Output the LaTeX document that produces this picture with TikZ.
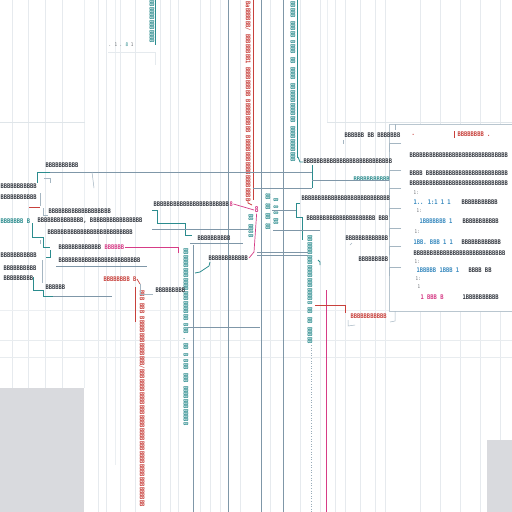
\documentclass[tikz,border=0pt]{standalone}
\usepackage{fontspec}
\newfontfamily\gf{DejaVu Sans Mono}[FakeStretch=0.85]
\definecolor{lnc}{HTML}{7F97A8}
\definecolor{tealc}{HTML}{2B8C8E}
\definecolor{redc}{HTML}{C8413C}
\definecolor{pinkc}{HTML}{D63C86}
\definecolor{bluec}{HTML}{3C8CC0}
\definecolor{txtc}{HTML}{333840}
\definecolor{faint}{HTML}{E6EAEE}
\definecolor{greyb}{HTML}{D9DADE}
\tikzset{
  tx/.style={font=\gf\bfseries\fontsize{6.4}{7}\selectfont, text=txtc, inner sep=0.4pt, anchor=west},
  txt/.style={tx, text=tealc},
  txr/.style={tx, text=redc},
  txp/.style={tx, text=pinkc},
  txb/.style={tx, text=bluec},
  txs/.style={tx, text=txtc!70, font=\gf\fontsize{5}{5}\selectfont},
  vt/.style={rotate=-90, anchor=west},
  ln/.style={draw=lnc, line width=0.8pt},
  lnt/.style={draw=tealc, line width=0.8pt},
  lnr/.style={draw=redc, line width=0.7pt},
  lnp/.style={draw=pinkc, line width=0.7pt},
  lng/.style={draw=lnc!70, line width=0.5pt},
  fl/.style={draw=faint, line width=0.5pt},
}
\begin{document}
\begin{tikzpicture}[x=1pt,y=-1pt]
\useasboundingbox (0,0) rectangle (512,512);
\fill[white] (0,0) rectangle (512,512);
% faint background grid
\foreach \x in {12,28,45,62,98,106,120,135,160,170,178,200,210,220,240,270,300,320,335,345,360,375,385,420,440,460,480,500}
  \draw[fl] (\x,0) -- (\x,512);
\draw[draw=faint!60!lnc!30, line width=0.6pt] (84,0) -- (84,388);
\draw[draw=faint!60!lnc!30, line width=0.6pt] (115,0) -- (115,465);
\draw[draw=faint!60!lnc!30, line width=0.6pt] (327,0) -- (327,122);
\draw[draw=lnc!25, line width=0.8pt] (0,122) -- (85,122);
\draw[draw=lnc!25, line width=0.8pt] (327,122) -- (512,122);
\draw[draw=lnc!18, line width=0.8pt] (0,340) -- (512,340);
\draw[draw=lnc!18, line width=0.8pt] (0,357) -- (512,357);
\draw[draw=lnc!15, line width=0.6pt] (0,310) -- (512,310);
\fill[greyb] (0,388) rectangle (84,512);
\fill[greyb] (487,440) rectangle (512,512);

% main vertical lines
\draw[ln] (228,0) -- (228,512);
\draw[ln] (261,0) -- (261,512);
\draw[ln] (283,0) -- (283,512);
\draw[ln] (193,245) -- (193,512);
\draw[lnp] (326,290) -- (326,512);
\draw[draw=lnc!80, line width=0.6pt, dotted] (311,345) -- (311,512);
\draw[lnr, line width=0.5pt] (253,0) -- (253,200);
\draw[lnt, line width=0.5pt] (297,0) -- (297,158);
\draw[lnt, line width=0.5pt] (155,0) -- (155,45);

% vertical texts
\node[txr, vt] (vred) at (248,1) {BaBBBBBB/ BBBBBBBB1 BBBBBBBBB BBBBBBBBBB BBBBBBBBBBBBBBBBBBBB};
\node[txt, vt] (vtealtop) at (293,1) {BBBBB BBBBB BBBB BB BBBB BBBBBBBBBBBB BBBBBBBBBBB};
\node[txt, vt] (vteal1) at (152,0) {BBBBBBBBBBBBB};
\node[txr, vt] (vred2) at (142,290) {BBB BBB BBBBBBBBBBBBBBB/BBBBBBBBBBBBBBBBBBBBBBBBBBBBBBBBBBBBBBBBBB};
\node[txt, vt] (vteal2) at (186,248) {BBBBBBBBBBBBBBBBBBBBBB BBB . BB B BBB BBB BBBBBBBBBBBB};
\node[txt, vt] (vteal3) at (310,235) {BBBBBBBBBBBBBBBBBBBBB BB BB BBBBB};
\node[txt, vt] (ctA) at (251,214) {B8 BB8B};
\node[txt, vt] (ctB) at (268,193) {8B 8B BB 8B};
\node[txt, vt] (ctC) at (276,198) {B 8 8 B8};
\node[txp, font=\gf\bfseries\fontsize{8}{8}\selectfont] (pk) at (254,210) {8};

% top-left marks
\node[txs] (mk) at (108,45) {. 1 . \textcolor{tealc}{8} 1};
\draw[fl, draw=lnc!20] (108,52) -- (155,52) -- (155,65);

% ===== right panel =====
\filldraw[fill=white, draw=lnc!55, line width=0.6pt] (389,124) rectangle (520,311);
\draw[lng] (395,124) -- (395,130);
\foreach \y in {143,170,188,208,228,246,267}
  \draw[lng] (401,\y) -- (389,\y) -- (389,\y+9);
\node[tx] (p0) at (344,135) {BBBBBB BB BBBBBBB};
\node[txr] (p0r) at (411,135) {.};
\draw[lng] (343,140) -- (343,144);
\draw[lnr] (454,131) -- (454,138);
\node[txr] (p0b) at (457,134) {BBBBBBBB .};
\node[tx] (p1) at (409,155) {BBBBBBBBBBBBBBBBBBBBBBBBBBBBBB};
\node[tx] (p2) at (409,173) {BBBB BBBBBBBBBBBBBBBBBBBBBBBBB};
\node[tx] (p3) at (409,183) {BBBBBBBBBBBBBBBBBBBBBBBBBBBBBB};
\node[txs] (p4) at (413,193) {1:};
\node[txb] (p5) at (413,202) {1.. 1:1 1 1};
\node[tx] (p5b) at (461,202) {BBBBBBBBBBB};
\node[txs] (p6) at (416,211) {1:};
\node[txb] (p7) at (419,221) {1BBBBBBB 1};
\node[tx] (p7b) at (462,221) {BBBBBBBBBBB};
\node[txs] (p8) at (414,232) {1:};
\node[txb] (p9) at (413,242) {1BB. BBB 1 1};
\node[tx] (p9b) at (461,242) {BBBBBBBBBBBB};
\node[tx] (p10) at (413,253) {BBBBBBBBBBBBBBBBBBBBBBBBBBBB};
\node[txs] (p11) at (414,262) {1:};
\node[txb] (p12) at (416,270) {1BBBBB 1BBB 1};
\node[tx] (p12b) at (468,270) {BBBB BB};
\node[txs] (p13) at (415,279) {1:};
\node[txs] (p14) at (417,287) {1};
\node[txp] (p15) at (420,297) {1 BBB B};
\node[tx] (p15b) at (462,297) {1BBBBBBBBBB};

% ===== mid-right =====
\node[tx] (m1) at (303,161) {BBBBBBBBBBBBBBBBBBBBBBBBBBB};
\node[txt] (m2) at (353,179) {BBBBBBBBBBB};
\node[tx] (m3) at (301,198) {BBBBBBBBBBBBBBBBBBBBBBBBBBB};
\node[tx] (m4) at (306,218) {BBBBBBBBBBBBBBBBBBBBB BBB};
\node[tx] (m5) at (345,238) {BBBBBBBBBBBBB};
\node[tx] (m6) at (358,259) {BBBBBBBBB};
\node[txr] (m7) at (350,316) {BBBBBBBBBBB};
\coordinate (c1) at (312,172);
\draw[ln] (50,172) -- (c1);
\draw[lnt] (312,165) -- (312,188);
\draw[ln] (312,180) -- (389,180);
\draw[ln] (253,188) -- (312,188);
\draw[lnt] (298,157) -- (300,162) -- (303,162);
\draw[lnt] (300,203) -- (296,203) -- (296,217) -- (302,217) -- (302,240);
\draw[ln] (272,210) -- (296,210);
\draw[ln] (273,230) -- (320,230);
\draw[ln] (257,255) -- (308,255);
\draw[ln] (188,327) -- (260,327);
\draw[lnr] (315,305) -- (345,305) -- (345,313);
\draw[lng] (348,320) -- (348,326) -- (355,325);
\draw[lng] (395,311) -- (395,321) -- (390,322);
\draw[lng] (350,245) -- (352,243);
\draw[lnt] (318,260) -- (320,262) -- (320,265);

% ===== left =====
\node[tx] (l1) at (45,165) {BBBBBBBBBB};
\node[tx] (l2) at (0,186) {BBBBBBBBBBB};
\node[tx] (l3) at (0,197) {BBBBBBBBBBB};
\node[tx] (l4) at (48,211) {BBBBBBBBBBBBBBBBBBB};
\node[txt] (l5) at (0,221) {BBBBBBB B};
\node[tx] (l6) at (37,221) {BBBBBBBBBBBBBB, BBBBBBBBBBBBBBBB};
\node[tx] (l7) at (47,232) {BBBBBBBBBBBBBBBBBBBBBBBBBB};
\node[tx] (l8) at (58,247) {BBBBBBBBBBBBB};
\node[txp] (l8p) at (104,247) {BBBBBB};
\node[tx] (l9) at (0,255) {BBBBBBBBBBB};
\node[tx] (l10) at (58,260) {BBBBBBBBBBBBBBBBBBBBBBBBB};
\node[tx] (l11) at (3,268) {BBBBBBBBBB};
\node[tx] (l12) at (3,278) {BBBBBBBBB};
\node[txr] (l13) at (103,279) {BBBBBBBB B};
\node[tx] (l14) at (45,287) {BBBBBB};
\node[tx] (l15) at (155,290) {BBBBBBBBB};
\draw[lnt] (50,172) -- (37,172) -- (37,183);
\draw[lng] (44,178) -- (50,178) -- (50,183);
\draw[lng] (92,172) -- (94,188);
\draw[lng] (40,193) -- (40,206);
\draw[lnr] (29,207) -- (40,207);
\draw[lng] (43,208) -- (43,215) -- (48,215);
\draw[lnt] (32,223) -- (32,237) -- (43,237) -- (43,247) -- (50,247);
\draw[lnt] (50,250) -- (50,257) -- (46,257);
\draw[lng] (42,260) -- (42,283);
\draw[lnt] (33,277) -- (33,290) -- (43,290) -- (43,296) -- (53,296);
\draw[ln] (53,296) -- (112,296);
\draw[ln] (56,266) -- (147,266);
\draw[lnp] (l8p.east) -- (178,247) -- (178,253);
\draw[lng] (40,240) -- (40,244);

% ===== centre-left =====
\node[tx] (c2) at (153,204) {BBBBBBBBBBBBBBBBBBBBBBB};
\node[txp] (c2p) at (229,204) {8};
\draw[lnp] (c2p.east) -- (pk.west);
\draw[lnr] (248,200) -- (248,203) -- (252,205);
\node[tx] (c3) at (197,238) {BBBBBBBBBB};
\node[tx] (c4) at (208,258) {BBBBBBBBBBBB};
\draw[lnt] (152,210) -- (157,210) -- (157,223) -- (185,223) -- (185,235) -- (192,235);
\draw[ln] (152,229) -- (250,229);
\draw[ln] (190,243) -- (243,243);
\draw[lnt] (195,273) -- (200,272) -- (209,266) -- (210,262);
\draw[lnp] (pk.south) -- (254,252) -- (249,258);
\draw[ln] (257,252) -- (308,252);
\draw[lnr] (135,287) -- (135,322);
\draw[lng] (140,284) -- (140,294) -- (153,294);
\draw[lnr] (l13.east) -- (140,284);
\end{tikzpicture}
\end{document}
